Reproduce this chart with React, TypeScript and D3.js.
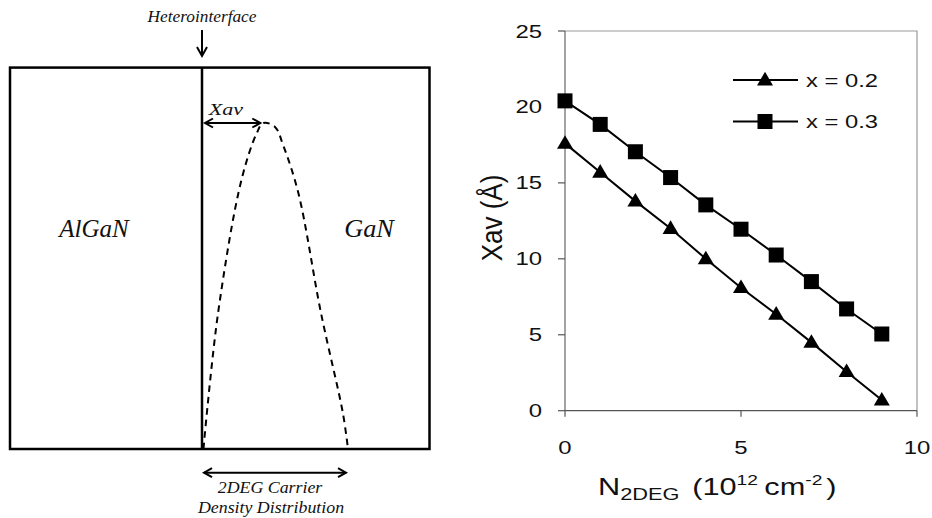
import { curveCatmullRom, line, scaleLinear } from "d3";
import type { ReactNode } from "react";

// right panel: Xav vs N2DEG
const densities = [0, 1, 2, 3, 4, 5, 6, 7, 8, 9];
const xav02 = [17.6, 15.7, 13.8, 12.0, 10.0, 8.1, 6.35, 4.5, 2.57, 0.7];
const xav03 = [20.4, 18.85, 17.05, 15.35, 13.55, 11.95, 10.25, 8.5, 6.7, 5.05];
const xTicks = [0, 5, 10];
const yTicks = [0, 5, 10, 15, 20, 25];
const seriesLabels = ["x = 0.2", "x = 0.3"];

// left panel: schematic 2DEG profile (depth from interface, relative density)
const profileDepth = [0.01, 0.11, 0.27, 0.375, 0.42, 0.5, 0.555, 0.66, 0.815, 0.965, 1.0];
const profileDensity = [0, 0.417, 0.825, 0.969, 1.0, 0.988, 0.933, 0.785, 0.417, 0.11, 0];
const peakDepth = 0.42;

const width = 932;
const height = 518;

const xScale = scaleLinear().domain([0, 10]).range([565, 917]);
const yScale = scaleLinear().domain([0, 25]).range([410.7, 31]);

// schematic scales
const depthScale = scaleLinear().domain([0, 1]).range([202, 348]);
const densityScale = scaleLinear().domain([0, 1]).range([449, 123]);

const sans = "'Liberation Sans', Arial, sans-serif";
const serif = "'Liberation Serif', 'Times New Roman', serif";

// the scanned figure is stretched sideways, so text is widened with sx
function SText({
  x,
  y,
  sx = 1,
  size,
  anchor = "start",
  italic = false,
  family = sans,
  children
}: {
  x: number;
  y: number;
  sx?: number;
  size: number;
  anchor?: string;
  italic?: boolean;
  family?: string;
  children: ReactNode;
}) {
  return (
    <text
      transform={`translate(${x},${y}) scale(${sx},1)`}
      textAnchor={anchor}
      fontFamily={family}
      fontStyle={italic ? "italic" : "normal"}
      fontSize={size}
      fill="#111"
    >
      {children}
    </text>
  );
}

function trianglePath(cx: number, cy: number, s: number): string {
  const h = s * 0.85;
  return `M${cx},${cy - h * 0.6}L${cx + s / 2},${cy + h * 0.4}L${cx - s / 2},${cy + h * 0.4}Z`;
}

function Marker({ kind, cx, cy }: { kind: number; cx: number; cy: number }) {
  if (kind === 0) {
    return <path d={trianglePath(cx, cy, 16)} fill="#000" />;
  }
  return <rect x={cx - 7.5} y={cy - 7.5} width={15} height={15} fill="#000" />;
}

function arrowHead(tipX: number, y: number, dir: number): string {
  return `M${tipX + dir * 8},${y - 4.5}L${tipX},${y}L${tipX + dir * 8},${y + 4.5}`;
}

function Schematic() {
  const profileLine = line<number>()
    .curve(curveCatmullRom)
    .x((_, i) => depthScale(profileDepth[i]))
    .y((_, i) => densityScale(profileDensity[i]));
  const left = 10;
  const right = 429.5;
  const top = densityScale(1.17);
  const bottom = densityScale(0);
  const iface = depthScale(0);
  const arrowY = densityScale(1);
  const peakX = depthScale(peakDepth);
  const baseArrowY = 472.7;
  return (
    <g>
      <SText x={iface} y={22} size={16.5} sx={1.05} anchor="middle" italic family={serif}>
        Heterointerface
      </SText>
      <line x1={iface} x2={iface} y1={30} y2={54} stroke="#000" strokeWidth={2} />
      <path d={`M${iface - 5},${47}L${iface},${56}L${iface + 5},${47}`} fill="none" stroke="#000" strokeWidth={2} />
      <rect x={left} y={top} width={right - left} height={bottom - top} fill="none" stroke="#000" strokeWidth={2.5} />
      <line x1={iface} x2={iface} y1={top} y2={bottom} stroke="#000" strokeWidth={2.5} />
      <path
        d={profileLine(profileDepth) ?? ""}
        fill="none"
        stroke="#000"
        strokeWidth={2}
        strokeDasharray="6.5,5"
      />
      {/* Xav arrow */}
      <line x1={iface + 3} x2={peakX - 3} y1={arrowY} y2={arrowY} stroke="#000" strokeWidth={2} />
      <path d={arrowHead(iface + 3, arrowY, 1)} fill="none" stroke="#000" strokeWidth={2} />
      <path d={arrowHead(peakX - 3, arrowY, -1)} fill="none" stroke="#000" strokeWidth={2} />
      <SText x={226} y={115} size={17} sx={1.3} anchor="middle" italic family={serif}>
        Xav
      </SText>
      <SText x={94} y={237} size={25} anchor="middle" italic family={serif}>
        AlGaN
      </SText>
      <SText x={369} y={237} size={25} sx={1.05} anchor="middle" italic family={serif}>
        GaN
      </SText>
      {/* distribution width arrow */}
      <line x1={iface + 2} x2={depthScale(1) - 2} y1={baseArrowY} y2={baseArrowY} stroke="#000" strokeWidth={2} />
      <path d={arrowHead(iface + 2, baseArrowY, 1)} fill="none" stroke="#000" strokeWidth={2} />
      <path d={arrowHead(depthScale(1) - 2, baseArrowY, -1)} fill="none" stroke="#000" strokeWidth={2} />
      <SText x={270} y={493} size={17} sx={1.05} anchor="middle" italic family={serif}>
        2DEG Carrier
      </SText>
      <SText x={271} y={513} size={17} sx={1.05} anchor="middle" italic family={serif}>
        Density Distribution
      </SText>
    </g>
  );
}

function XavChart() {
  const seriesLine = line<[number, number]>()
    .x(([d]) => xScale(d))
    .y(([, v]) => yScale(v));
  const series = [xav02, xav03].map((vals) => densities.map((d, i) => [d, vals[i]] as [number, number]));
  const x0 = xScale(0);
  const x1 = xScale(10);
  const y0 = yScale(0);
  const y1 = yScale(25);
  return (
    <g fontFamily={sans}>
      {/* plot frame */}
      <path d={`M${x0},${y1}H${x1}V${y0}`} fill="none" stroke="#999" strokeWidth={1.2} />
      <line x1={x0} x2={x0} y1={y1} y2={y0} stroke="#666" strokeWidth={1.2} />
      <line x1={x0} x2={x1} y1={y0} y2={y0} stroke="#555" strokeWidth={1.3} />
      {yTicks.map((t) => (
        <g key={`y${t}`}>
          <line x1={x0 - 7} x2={x0} y1={yScale(t)} y2={yScale(t)} stroke="#555" strokeWidth={1.2} />
          <SText x={x0 - 23} y={yScale(t) + 6.5} size={18} sx={1.33} anchor="end">
            {t}
          </SText>
        </g>
      ))}
      {xTicks.map((t) => (
        <g key={`x${t}`}>
          <line x1={xScale(t)} x2={xScale(t)} y1={y0} y2={y0 + 6} stroke="#555" strokeWidth={1.2} />
          <SText x={xScale(t)} y={453.5} size={18} sx={1.33} anchor="middle">
            {t}
          </SText>
        </g>
      ))}
      {series.map((pts, si) => (
        <g key={seriesLabels[si]}>
          <path d={seriesLine(pts) ?? ""} fill="none" stroke="#000" strokeWidth={2} />
          {pts.map(([d, v]) => (
            <Marker key={d} kind={si} cx={xScale(d)} cy={yScale(v)} />
          ))}
        </g>
      ))}
      {/* legend */}
      {seriesLabels.map((label, i) => {
        const ly = 80 + i * 41.5;
        return (
          <g key={`leg${label}`}>
            <line x1={733} x2={798} y1={ly} y2={ly} stroke="#000" strokeWidth={2} />
            <Marker kind={i} cx={765} cy={ly} />
            <SText x={806} y={ly + 6.5} size={18} sx={1.32}>
              {label}
            </SText>
          </g>
        );
      })}
      {/* axis titles */}
      <text
        transform="translate(502,218) rotate(-90) scale(1,1.15)"
        textAnchor="middle"
        fontSize={26}
        fill="#111"
      >
        Xav (Å)
      </text>
      <SText x={598} y={495} size={24} sx={1.28}>
        N
        <tspan fontSize={17} dy={5}>2DEG</tspan>
        <tspan dy={-5} dx={10}>(10</tspan>
        <tspan fontSize={15} dy={-10}>12</tspan>
        <tspan dy={10} dx={5}>cm</tspan>
        <tspan fontSize={15} dy={-10}>-2</tspan>
        <tspan dy={10} dx={3}>)</tspan>
      </SText>
    </g>
  );
}

export default function App() {
  return (
    <svg
      width={width}
      height={height}
      viewBox={`0 0 ${width} ${height}`}
      style={{ display: "block", position: "absolute", left: 0, top: 0, background: "#fff" }}
    >
      <rect width={width} height={height} fill="#fff" />
      <Schematic />
      <XavChart />
    </svg>
  );
}
